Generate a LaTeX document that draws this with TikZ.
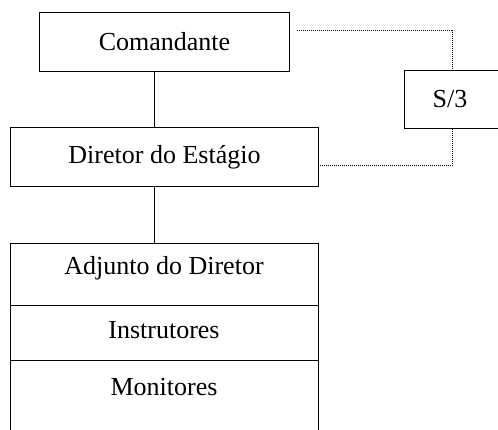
\documentclass[tikz,border=0pt]{standalone}
\usepackage{fontspec}
\setmainfont{Liberation Serif}
\begin{document}
\begin{tikzpicture}[x=1pt,y=-1pt,
  box/.style={draw,line width=1pt,rectangle,inner sep=0pt,anchor=north west},
  lbl/.style={font=\fontsize{26}{30}\selectfont,inner sep=0pt},
  solidline/.style={line width=1pt},
  dotline/.style={line width=1pt,dash pattern=on 1pt off 1pt}]
\useasboundingbox (0,0) rectangle (498,430);
\clip (0,0) rectangle (498,430);
% boxes
\node[box,minimum width=250pt,minimum height=59pt] (cmd) at (39,12) {};
\node[lbl] (cmdt) at (cmd.center) {Comandante};
\node[box,minimum width=308pt,minimum height=59pt] (dir) at (10,127) {};
\node[lbl] (dirt) at (dir.center) {Diretor do Estágio};
\node[box,minimum width=104pt,minimum height=58pt] (s3) at (404,70) {};
\node[lbl] (s3t) at (450,99) {S/3};
\node[box,minimum width=308pt,minimum height=62pt] (adj) at (10,243) {};
\node[lbl] (adjt) at (164,268) {Adjunto do Diretor};
\node[box,minimum width=308pt,minimum height=55pt] (ins) at (10,305) {};
\node[lbl] (inst) at (164,330) {Instrutores};
\node[box,minimum width=308pt,minimum height=80pt] (mon) at (10,360) {};
\node[lbl] (mont) at (164,387) {Monitores};
% solid connectors
\draw[solidline] (cmd.south -| 154,0) -- (dir.north -| 154,0);
\draw[solidline] (dir.south -| 154,0) -- (adj.north -| 154,0);
% dotted connectors
\coordinate (c1) at (297,31);
\coordinate (c2) at (452,31);
\coordinate (c3) at (452,166);
\coordinate (c4) at (320,166);
\draw[dotline] (c1) -- (c2) -- (s3.north -| c2);
\draw[dotline] (s3.south -| c3) -- (c3) -- (c4);
\end{tikzpicture}
\end{document}
